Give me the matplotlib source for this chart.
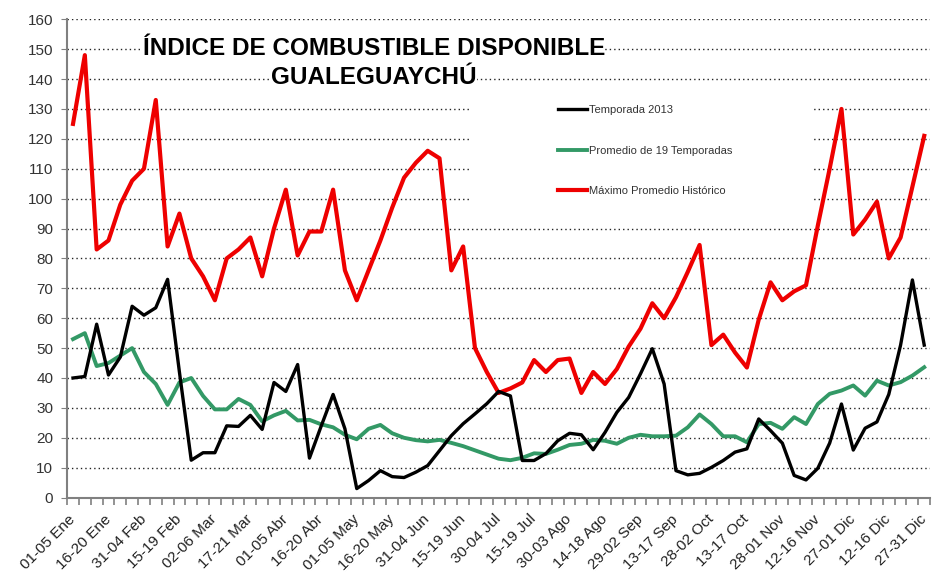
import matplotlib
matplotlib.use("Agg")
import matplotlib.pyplot as plt
from matplotlib.patches import Rectangle

# --- data (73 pentads) ---
temporada_2013 = [40, 40.5, 58, 41, 47, 64, 61, 63.5, 73, 42,
                  12.5, 15, 15, 24, 23.8, 27.5, 22.8, 38.5, 35.5, 44.5,
                  13.2, 24, 34.5, 23, 3, 5.7, 9, 7, 6.7, 8.5,
                  10.7, 15.7, 20.7, 24.7, 28, 31.4, 35.5, 34, 12.4, 12.4,
                  14.7, 19, 21.5, 21, 16, 21.8, 28.5, 33.5, 41.4, 49.8,
                  38, 9, 7.6, 8.1, 10.1, 12.4, 15.2, 16.3, 26.3, 22.4,
                  18.2, 7.4, 5.9, 9.8, 18.2, 31.3, 15.9, 23.2, 25.3, 34.5,
                  51, 72.8, 51]
promedio_19 = [53, 55, 44, 45, 47.5, 50, 42, 38, 31, 38.5,
               40, 34, 29.5, 29.5, 33, 31, 25.5, 27.5, 29, 25.8,
               26, 24.5, 23.5, 21, 19.5, 23, 24.3, 21.5, 20, 19.2,
               18.8, 19.3, 18.3, 17.2, 15.8, 14.4, 13, 12.5, 13.3, 14.8,
               14.6, 16, 17.6, 18, 19.3, 19, 18, 20, 21, 20.5,
               20.5, 20.7, 23.5, 27.8, 24.6, 20.5, 20.5, 18.5, 24.6, 25,
               23, 26.9, 24.6, 31.3, 34.7, 35.8, 37.5, 34.1, 39.1, 37.5,
               38.6, 40.8, 43.6]
maximo_hist = [125, 148, 83, 86, 98, 106, 110, 133, 84, 95,
               80, 74, 66, 80, 83, 87, 74, 90, 103, 81,
               89, 89, 103, 76, 66, 76, 86, 97, 107, 112,
               116, 113.5, 76, 84, 50, 42, 35, 36.5, 38.5, 46,
               42, 46, 46.5, 35, 42, 38, 43, 50.5, 56.5, 65,
               60, 67, 75.5, 84.5, 51, 54.5, 48.5, 43.5, 59.5, 72,
               66, 69, 71, 91, 110, 130, 88, 93, 99, 80,
               87, 104, 121]
tick_labels = ["01-05 Ene", "16-20 Ene", "31-04 Feb", "15-19 Feb", "02-06 Mar",
               "17-21 Mar", "01-05 Abr", "16-20 Abr", "01-05 May", "16-20 May",
               "31-04 Jun", "15-19 Jun", "30-04 Jul", "15-19 Jul", "30-03 Ago",
               "14-18 Ago", "29-02 Sep", "13-17 Sep", "28-02 Oct", "13-17 Oct",
               "28-01 Nov", "12-16 Nov", "27-01 Dic", "12-16 Dic", "27-31 Dic"]

plt.rcParams['font.family'] = ['Liberation Sans', 'DejaVu Sans']

fig = plt.figure(figsize=(9.32, 5.84), dpi=100)
ax = fig.add_axes([0.072, 0.148, 0.926, 0.819])

x = list(range(len(temporada_2013)))
ax.plot(x, temporada_2013, color='black', lw=2.4, zorder=4, label='Temporada 2013')
ax.plot(x, promedio_19, color='#339966', lw=2.8, zorder=3, label='Promedio de 19 Temporadas')
ax.plot(x, maximo_hist, color='#ee0000', lw=3.0, zorder=3, label='Máximo Promedio Histórico')

ax.set_xlim(-0.5, len(x) - 0.5)
ax.set_ylim(0, 160)
ax.set_yticks(range(0, 161, 10))
ax.yaxis.grid(True, linestyle=(0, (1, 2.2)), color='#222222', lw=1.0)
ax.tick_params(axis='y', labelsize=11, labelcolor='#333333', length=4, color='#808080', pad=6)

ax.set_xticks([i - 0.5 for i in range(len(x) + 1)], minor=True)
ax.set_xticks(x[::3])
ax.set_xticklabels(tick_labels, rotation=45, ha='right', va='center',
                   rotation_mode='anchor', fontsize=11, color='#222222')
ax.tick_params(axis='x', which='major', length=0, pad=14)
ax.tick_params(axis='x', which='minor', length=5, color='#808080', width=1.2)

for s in ['top', 'right']:
    ax.spines[s].set_visible(False)
for s in ['left', 'bottom']:
    ax.spines[s].set_color('#808080')
    ax.spines[s].set_linewidth(1.5)

# white legend area hiding gridlines
ax.add_patch(Rectangle((33.5, 97), 29.2, 39, facecolor='white', edgecolor='none', zorder=1.8))
leg = ax.legend(loc='upper left', bbox_to_anchor=(0.562, 0.832), frameon=False, fontsize=8,
                handlelength=2.6, handletextpad=0.25, labelspacing=2.75, borderpad=0)
for t in leg.get_texts():
    t.set_color('#333333')

fig.text(0.401, 0.906, 'ÍNDICE DE COMBUSTIBLE DISPONIBLE', fontsize=17.5, fontweight='bold',
         ha='center', va='baseline', bbox=dict(facecolor='white', edgecolor='none', pad=0))
fig.text(0.401, 0.857, 'GUALEGUAYCHÚ', fontsize=17.5, fontweight='bold',
         ha='center', va='baseline', bbox=dict(facecolor='white', edgecolor='none', pad=0))

fig.savefig('out.png', dpi=100)
